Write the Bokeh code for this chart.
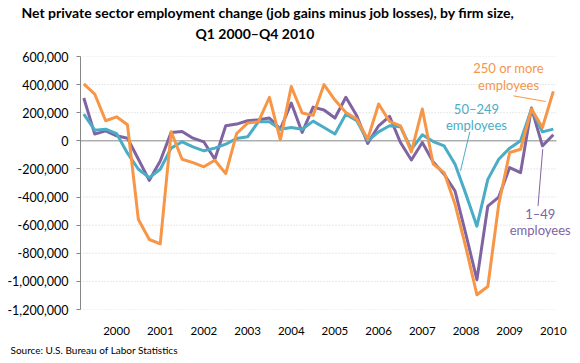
from bokeh.plotting import figure
from bokeh.models import Range1d, FixedTicker, NumeralTickFormatter, Label, Title
from bokeh.embed import file_html
from bokeh.resources import INLINE

# ---------------- data ----------------
years = ["2000", "2001", "2002", "2003", "2004", "2005",
         "2006", "2007", "2008", "2009", "2010"]
quarter_index = list(range(44))  # Q1 2000 .. Q4 2010

firms_1_49 = [305000, 48000, 71000, 36000, 19000, -131000, -281000, -143000,
              60000, 67000, 19000, -8000, -131000, 107000, 119000, 143000,
              150000, 162000, 83000, 269000, 60000, 240000, 219000, 162000,
              310000, 179000, -19000, 107000, 174000, -12000, -136000, -12000,
              -150000, -238000, -357000, -667000, -988000, -464000, -400000, -190000,
              -226000, 233000, -36000, 43000]

firms_50_249 = [190000, 76000, 83000, 52000, -88000, -202000, -262000, -202000,
                -52000, -7000, -43000, -71000, -52000, -24000, 17000, 29000,
                136000, 136000, 83000, 95000, 83000, 140000, 95000, 48000,
                190000, 143000, 0, 64000, 107000, 100000, -60000, 43000,
                -5000, -36000, -167000, -381000, -607000, -274000, -131000, -52000,
                0, 226000, 64000, 83000]

firms_250_plus = [405000, 333000, 143000, 171000, 114000, -560000, -702000, -733000,
                  64000, -131000, -155000, -185000, -138000, -233000, 52000, 126000,
                  136000, 310000, 7000, 386000, 198000, 181000, 400000, 290000,
                  202000, 155000, 12000, 262000, 138000, 107000, -79000, 226000,
                  -165000, -226000, -452000, -762000, -1095000, -1036000, -452000, -83000,
                  -60000, 226000, 95000, 352000]

y_ticks = [-1200000, -1000000, -800000, -600000, -400000, -200000,
           0, 200000, 400000, 600000]

title_lines = ["Net private sector employment change (job gains minus job losses), by firm size,",
               "Q1 2000\u2013Q4 2010"]
source_text = "Source: U.S. Bureau of Labor Statistics"

# ---------------- styling ----------------
FONT = "Lato"
C_SMALL = "#8064A2"
C_MID = "#4BACC6"
C_LARGE = "#F79646"
AXIS_GREY = "#868686"

X_START, X_END = -0.302, 45.03   # plot area extends right so the labels fit
GRID_END = 43.29                 # where the gridlines stop

p = figure(width=580, height=363, title=None,
           x_range=Range1d(X_START, X_END), y_range=Range1d(-1200000, 600000),
           output_backend="svg", toolbar_location=None,
           min_border_left=80, min_border_right=5,
           min_border_top=56, min_border_bottom=54)
p.outline_line_color = None
p.background_fill_color = "white"

# titles: spacer (closest to plot), then line 2, then line 1
p.add_layout(Title(text=" ", text_font_size="1px", standoff=11), "above")
p.add_layout(Title(text=title_lines[1], align="left", offset=115, standoff=2,
                   text_font=FONT, text_font_size="14px", text_font_style="bold",
                   text_color="black"), "above")
p.add_layout(Title(text=title_lines[0], align="left", offset=-59, standoff=2,
                   text_font=FONT, text_font_size="14px", text_font_style="bold",
                   text_color="black"), "above")

# x axis: year labels at Q4 of each year
tick_pos = [4 * k + 3 for k in range(len(years))]
p.xaxis.ticker = FixedTicker(ticks=tick_pos)
p.xaxis.major_label_overrides = {t: y for t, y in zip(tick_pos, years)}
p.xaxis.axis_line_color = None
p.xaxis.major_tick_line_color = None
p.xaxis.minor_tick_line_color = None
p.xaxis.major_label_standoff = 11
p.xaxis.major_label_text_font = FONT
p.xaxis.major_label_text_font_size = "11.5px"
p.xaxis.major_label_text_color = "black"

p.add_layout(Title(text=source_text, align="left", offset=-70, standoff=9,
                   text_font=FONT, text_font_size="10px", text_font_style="normal",
                   text_color="black"), "below")

# y axis
p.yaxis.ticker = FixedTicker(ticks=y_ticks)
p.yaxis.formatter = NumeralTickFormatter(format="0,0")
p.yaxis.axis_line_color = AXIS_GREY
p.yaxis.major_tick_line_color = AXIS_GREY
p.yaxis.major_tick_out = 4
p.yaxis.major_tick_in = 0
p.yaxis.minor_tick_line_color = None
p.yaxis.major_label_standoff = 8
p.yaxis.major_label_text_font = FONT
p.yaxis.major_label_text_font_size = "12.5px"
p.yaxis.major_label_text_color = "black"

# gridlines: dotted, stopping at the end of the data area; solid zero line
p.xgrid.grid_line_color = None
p.ygrid.grid_line_color = None
grid_vals = [v for v in y_ticks if v != 0]
p.segment(x0=[X_START] * len(grid_vals), x1=[GRID_END] * len(grid_vals),
          y0=grid_vals, y1=grid_vals, line_color="#d0d0d0", line_width=1,
          line_dash="1 2")
p.segment(x0=[X_START], x1=[GRID_END], y0=[0], y1=[0],
          line_color=AXIS_GREY, line_width=1)

for vals, col in [(firms_1_49, C_SMALL), (firms_50_249, C_MID), (firms_250_plus, C_LARGE)]:
    p.line(quarter_index, vals, line_color=col, line_width=3, line_join="round")

# ---------------- series labels ----------------
def lab(x, y, text, color, size="13px"):
    p.add_layout(Label(x=x, y=y, text=text, text_color=color, text_font=FONT,
                       text_font_size=size, text_align="center",
                       text_baseline="middle"))

lab(38.9, 515000, "250 or more", C_LARGE)
lab(38.9, 396000, "employees", C_LARGE)
lab(35.96, 228000, "50\u2013249", C_MID)
lab(35.96, 114000, "employees", C_MID)
lab(41.8, -520000, "1\u201349", C_SMALL)
lab(41.8, -633000, "employees", C_SMALL)

# leader lines
p.line([39.35, 42.28], [320000, 280000], line_color=C_LARGE, line_width=1)
p.line([35.35, 34.5], [64000, -213000], line_color=C_MID, line_width=1)
p.line([42.03, 41.6], [-59000, -463000], line_color=C_SMALL, line_width=1)

open("out.html", "w").write(file_html(p, INLINE))
